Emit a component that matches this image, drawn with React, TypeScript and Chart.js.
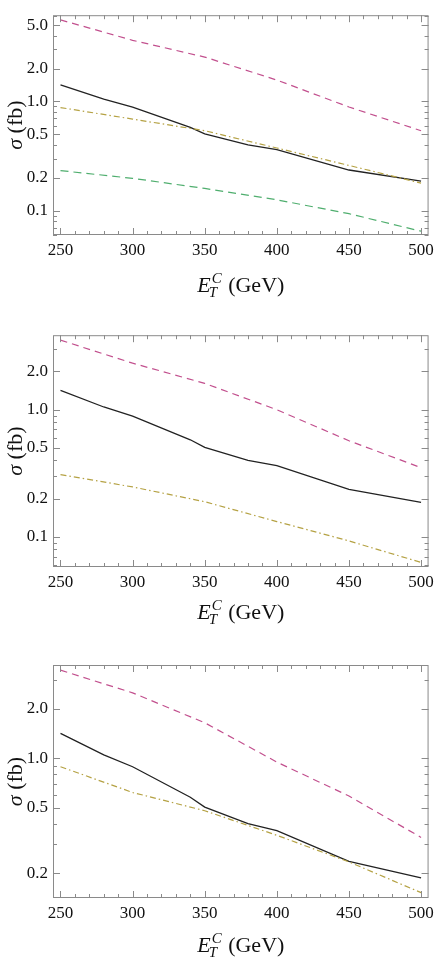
import React, { useEffect, useRef } from "react";
import { Chart, registerables } from "chart.js";

Chart.register(...registerables);

// ---------- data ----------
const xTotal = [250, 280, 300, 340, 350, 380, 400, 450, 500];
const sigmaTotal = [1.42, 1.05, 0.89, 0.58, 0.505, 0.40, 0.363, 0.236, 0.187];

const xCurve = [250, 300, 350, 400, 450, 500];

const p1Magenta = [5.58, 3.63, 2.55, 1.57, 0.89, 0.54];
const p1Yellow = [0.88, 0.69, 0.54, 0.375, 0.26, 0.179];
const p1Green = [0.233, 0.198, 0.16, 0.126, 0.094, 0.065];

const p2Magenta = [3.52, 2.32, 1.61, 1.0, 0.57, 0.35];
const p2Yellow = [0.309, 0.247, 0.189, 0.132, 0.093, 0.063];

const p3Magenta = [3.45, 2.51, 1.65, 0.95, 0.59, 0.33];
const p3Yellow = [0.89, 0.62, 0.48, 0.34, 0.234, 0.152];

const xTickValues = [250, 300, 350, 400, 450, 500];
const yTickValues = [0.1, 0.2, 0.5, 1.0, 2.0, 5.0];
const xMinorStep = 10;

const SERIF = "'Liberation Serif', 'Times New Roman', serif";
const FRAME = "#8a8a8a";
const C_BLACK = "#222222";
const C_MAGENTA = "#c2508e";
const C_YELLOW = "#b5a244";
const C_GREEN = "#4fae6e";

type Series = { xs: number[]; ys: number[]; color: string; dash: number[]; width: number };

type PanelCfg = {
  height: number;
  top: number; // plot top within canvas
  bottom: number; // plot bottom within canvas
  yMin: number;
  yMax: number;
  titleBaseline: number; // offset of x title baseline below plot bottom
  series: Series[];
};

const panels: PanelCfg[] = [
  {
    height: 320, top: 2, bottom: 235, yMin: 0.06, yMax: 6.16, titleBaseline: 57,
    series: [
      { xs: xCurve, ys: p1Magenta, color: C_MAGENTA, dash: [7, 5], width: 1.2 },
      { xs: xCurve, ys: p1Green, color: C_GREEN, dash: [8, 5], width: 1.2 },
      { xs: xCurve, ys: p1Yellow, color: C_YELLOW, dash: [6, 3, 1.5, 3], width: 1.2 },
      { xs: xTotal, ys: sigmaTotal, color: C_BLACK, dash: [], width: 1.3 },
    ],
  },
  {
    height: 320, top: 14, bottom: 247, yMin: 0.058, yMax: 3.85, titleBaseline: 52,
    series: [
      { xs: xCurve, ys: p2Magenta, color: C_MAGENTA, dash: [7, 5], width: 1.2 },
      { xs: xCurve, ys: p2Yellow, color: C_YELLOW, dash: [6, 3, 1.5, 3], width: 1.2 },
      { xs: xTotal, ys: sigmaTotal, color: C_BLACK, dash: [], width: 1.3 },
    ],
  },
  {
    height: 323, top: 25, bottom: 258, yMin: 0.141, yMax: 3.71, titleBaseline: 54,
    series: [
      { xs: xCurve, ys: p3Magenta, color: C_MAGENTA, dash: [7, 5], width: 1.2 },
      { xs: xCurve, ys: p3Yellow, color: C_YELLOW, dash: [6, 3, 1.5, 3], width: 1.2 },
      { xs: xTotal, ys: sigmaTotal, color: C_BLACK, dash: [], width: 1.3 },
    ],
  },
];

function logMinorTicks(min: number, max: number): number[] {
  const out: number[] = [];
  for (let e = -3; e <= 2; e++) {
    for (let k = 1; k <= 9; k++) {
      const v = k * Math.pow(10, e);
      if (v >= min && v <= max) out.push(v);
    }
  }
  return out;
}

function makeFramePlugin(cfg: PanelCfg) {
  return {
    id: "frameTicks",
    afterDatasetsDraw(chart: any) {
      const { ctx, chartArea } = chart;
      const { left, right, top, bottom } = chartArea;
      const xs = chart.scales.x;
      const ys = chart.scales.y;
      ctx.save();
      ctx.strokeStyle = FRAME;
      ctx.lineWidth = 1;
      ctx.setLineDash([]);
      ctx.strokeRect(left + 0.5, top + 0.5, right - left - 1, bottom - top - 1);

      ctx.beginPath();
      for (let v = 250; v <= 500; v += xMinorStep) {
        const px = Math.round(xs.getPixelForValue(v)) + 0.5;
        const major = xTickValues.includes(v);
        const len = major ? 7 : 4;
        ctx.moveTo(px, bottom);
        ctx.lineTo(px, bottom - len);
        ctx.moveTo(px, top);
        ctx.lineTo(px, top + len);
      }
      const yMinor = logMinorTicks(cfg.yMin, cfg.yMax);
      for (const v of yMinor) {
        const py = Math.round(ys.getPixelForValue(v)) + 0.5;
        const major = yTickValues.some((t) => Math.abs(t - v) < 1e-9);
        const len = major ? 7 : 4;
        ctx.moveTo(left, py);
        ctx.lineTo(left + len, py);
        ctx.moveTo(right, py);
        ctx.lineTo(right - len, py);
      }
      ctx.stroke();

      // x title: E_T^C (GeV)
      ctx.fillStyle = "#111";
      ctx.textBaseline = "alphabetic";
      ctx.textAlign = "left";
      const big = `22px ${SERIF}`;
      const bigI = `italic 22px ${SERIF}`;
      const smallI = `italic 15px ${SERIF}`;
      ctx.font = bigI;
      const wE = ctx.measureText("E").width;
      ctx.font = smallI;
      const wC = ctx.measureText("C").width;
      const wT = ctx.measureText("T").width;
      const wScript = Math.max(wC + 1, wT) + 1;
      ctx.font = big;
      const rest = " (GeV)";
      const wRest = ctx.measureText(rest).width;
      const total = wE + wScript + wRest;
      const cx = (left + right) / 2;
      const x0 = cx - total / 2;
      const base = bottom + cfg.titleBaseline;
      ctx.font = bigI;
      ctx.fillText("E", x0, base);
      ctx.font = smallI;
      ctx.fillText("C", x0 + wE + 1, base - 9);
      ctx.fillText("T", x0 + wE - 2, base + 5);
      ctx.font = big;
      ctx.fillText(rest, x0 + wE + wScript, base);

      // y title: σ (fb)
      ctx.save();
      ctx.translate(16, (top + bottom) / 2);
      ctx.rotate(-Math.PI / 2);
      ctx.font = bigI;
      const wS = ctx.measureText("σ").width;
      ctx.font = big;
      const wFb = ctx.measureText(" (fb)").width;
      const tot2 = wS + wFb;
      ctx.textBaseline = "middle";
      ctx.font = bigI;
      ctx.fillText("σ", -tot2 / 2, 0);
      ctx.font = big;
      ctx.fillText(" (fb)", -tot2 / 2 + wS, 0);
      ctx.restore();

      ctx.restore();
    },
  };
}

function Panel({ cfg }: { cfg: PanelCfg }) {
  const ref = useRef<HTMLCanvasElement | null>(null);
  useEffect(() => {
    if (!ref.current) return;
    const chart = new Chart(ref.current, {
      type: "line",
      data: {
        datasets: cfg.series.map((s) => ({
          data: s.xs.map((x, i) => ({ x, y: s.ys[i] })),
          borderColor: s.color,
          borderWidth: s.width,
          borderDash: s.dash,
          pointRadius: 0,
          fill: false,
          tension: 0,
        })),
      },
      options: {
        animation: false,
        responsive: false,
        devicePixelRatio: 1,
        layout: { padding: { top: cfg.top, right: 9, left: 0, bottom: 0 } },
        plugins: { legend: { display: false }, tooltip: { enabled: false } },
        scales: {
          x: {
            type: "linear",
            min: 244.8,
            max: 505.2,
            grid: { display: false, drawTicks: false },
            border: { display: false },
            afterBuildTicks: (s: any) => {
              s.ticks = xTickValues.map((v) => ({ value: v }));
            },
            afterFit: (s: any) => {
              s.height = cfg.height - cfg.bottom;
            },
            ticks: {
              color: "#111",
              padding: 5,
              maxRotation: 0,
              autoSkip: false,
              font: { family: SERIF, size: 17 },
              callback: (v: any) => String(v),
            },
          },
          y: {
            type: "logarithmic",
            min: cfg.yMin,
            max: cfg.yMax,
            grid: { display: false, drawTicks: false },
            border: { display: false },
            afterBuildTicks: (s: any) => {
              s.ticks = yTickValues
                .filter((v) => v >= cfg.yMin && v <= cfg.yMax)
                .map((v) => ({ value: v }));
            },
            afterFit: (s: any) => {
              s.width = 53;
            },
            ticks: {
              color: "#111",
              padding: 5,
              autoSkip: false,
              font: { family: SERIF, size: 17 },
              callback: (v: any) => Number(v).toFixed(1),
            },
          },
        },
      },
      plugins: [makeFramePlugin(cfg)],
    } as any);
    return () => chart.destroy();
  }, [cfg]);
  return (
    <canvas
      ref={ref}
      width={439}
      height={cfg.height}
      style={{ display: "block", width: 439, height: cfg.height }}
    />
  );
}

export default function App() {
  return (
    <div style={{ position: "absolute", left: 0, top: 0, width: 439, background: "#fff" }}>
      {panels.map((p, i) => (
        <Panel key={i} cfg={p} />
      ))}
    </div>
  );
}
